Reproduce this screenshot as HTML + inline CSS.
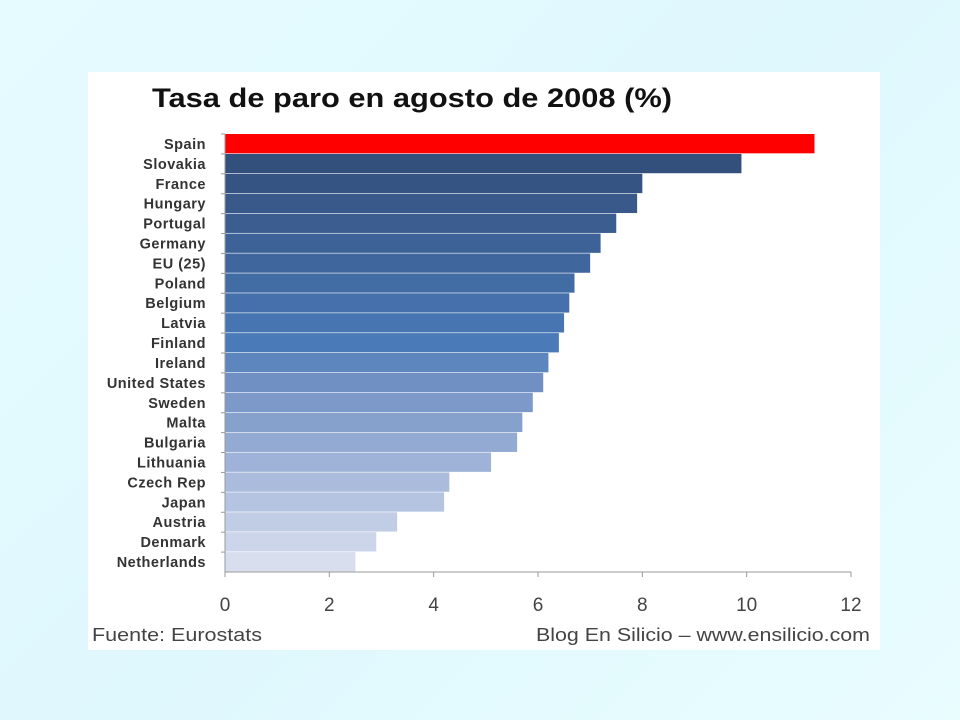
<!DOCTYPE html>
<html><head><meta charset="utf-8"><style>
body{margin:0;width:960px;height:720px;background:linear-gradient(135deg,#e6fbff,#dff8fd 50%,#e9fdff);font-family:"Liberation Sans",sans-serif;overflow:hidden}
#panel{position:absolute;left:88px;top:72px;width:792px;height:578px;background:#fff}
</style></head><body>
<div id="panel"></div>
<svg id="chart" width="960" height="720" style="position:absolute;left:0;top:0">
<text x="152" y="107" font-size="27" font-weight="bold" fill="#111" textLength="520" lengthAdjust="spacingAndGlyphs">Tasa de paro en agosto de 2008 (%)</text>
<text x="92" y="641" font-size="18" fill="#444" textLength="170" lengthAdjust="spacingAndGlyphs">Fuente: Eurostats</text>
<text x="536" y="641" font-size="18" fill="#444" textLength="334" lengthAdjust="spacingAndGlyphs">Blog En Silicio – www.ensilicio.com</text>
</svg>
<script>
const categories=["Spain","Slovakia","France","Hungary","Portugal","Germany","EU (25)","Poland","Belgium","Latvia","Finland","Ireland","United States","Sweden","Malta","Bulgaria","Lithuania","Czech Rep","Japan","Austria","Denmark","Netherlands"];
const values=[11.3,9.9,8.0,7.9,7.5,7.2,7.0,6.7,6.6,6.5,6.4,6.2,6.1,5.9,5.7,5.6,5.1,4.3,4.2,3.3,2.9,2.5];
const ticks=[0,2,4,6,8,10,12];
const svg=document.getElementById('chart');const NS='http://www.w3.org/2000/svg';
const x0=225,x1=851,y0=134,y1=572,xmax=12;
const X=v=>x0+(x1-x0)*v/xmax;
const rowH=(y1-y0)/categories.length;
const Y=i=>y0+i*rowH;
function mk(t,a){const e=document.createElementNS(NS,t);for(const k in a)e.setAttribute(k,a[k]);svg.appendChild(e);return e;}
function col(i){if(i===0)return '#ff0000';
 const stops=[[1,[51,79,124]],[10,[74,122,184]],[12,[112,144,196]],[21,[216,222,238]]];
 for(let s=0;s<stops.length-1;s++){const[a,ca]=stops[s],[b,cb]=stops[s+1];if(i<=b){const t=(i-a)/(b-a);return 'rgb('+ca.map((c,j)=>Math.round(c+(cb[j]-c)*t)).join(',')+')';}}
 return 'rgb(216,222,238)';}
categories.forEach((c,i)=>{
 const r=mk('rect',{x:x0,y:Y(i),width:X(values[i])-x0,height:rowH-0.6,fill:col(i)});
 
 
 const t=mk('text',{x:206,y:Y(i)+rowH/2+5,'font-size':14.5,'font-weight':'bold',fill:'#333','text-anchor':'end','letter-spacing':0.5});
 t.textContent=c;
 
 
 const tk=mk('line',{x1:x0-4,x2:x0,y1:Y(i),y2:Y(i),stroke:'#999'});
 
 
});
const ya=mk('line',{x1:x0,x2:x0,y1:y0,y2:y1,stroke:'#999'});


const xa=mk('line',{x1:x0,x2:x1,y1:y1,y2:y1,stroke:'#999'});


ticks.forEach(v=>{
 const l=mk('line',{x1:X(v),x2:X(v),y1:y1,y2:y1+5,stroke:'#999'});
 
 
 const t=mk('text',{x:X(v),y:611,'font-size':19,fill:'#444','text-anchor':'middle'});
 t.textContent=v;
 
 
});
</script>
</body></html>
